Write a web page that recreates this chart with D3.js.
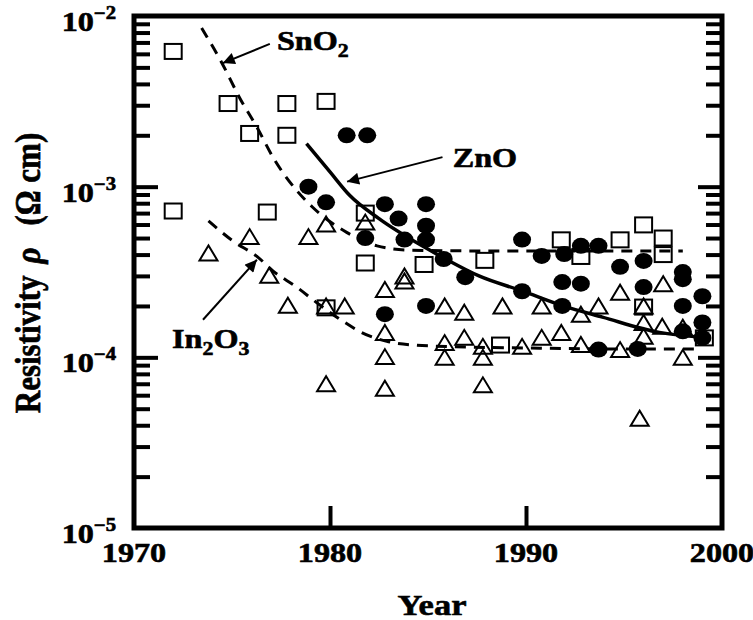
<!DOCTYPE html>
<html>
<head>
<meta charset="utf-8">
<script src="https://cdn.jsdelivr.net/npm/d3@7"></script>
<style>
  body { margin: 0; background: #fff; }
  text { font-family: "Liberation Serif", "Times New Roman", serif; font-weight: bold; fill: #000;
         stroke: #000; stroke-width: 0.6px; }
</style>
</head>
<body>
<div id="chart"></div>
<script>
// SnO2 (open squares)
var snYears  = [1972, 1972, 1974.8, 1975.9, 1976.8, 1977.8, 1977.8, 1979.8, 1979.8, 1981.8, 1981.8,
                1984.8, 1987.9, 1988.7, 1991.8, 1992.8, 1994.8, 1996.0, 1997.0, 1997.0, 1996.0, 1999.1];
var snValues = [6.2e-3, 7.2e-4, 3.07e-3, 2.05e-3, 7.1e-4, 3.07e-3, 2.0e-3, 3.16e-3, 1.95e-4, 7.0e-4, 3.57e-4,
                3.5e-4, 3.7e-4, 1.18e-4, 4.88e-4, 3.9e-4, 4.88e-4, 5.97e-4, 5.0e-4, 4.0e-4, 1.97e-4, 1.3e-4];

// ZnO (filled circles)
var znYears  = [1978.9, 1979.8, 1980.85, 1981.9, 1981.8, 1982.8, 1983.5, 1983.8, 1984.9, 1984.9, 1984.9,
                1985.8, 1986.9, 1989.8, 1989.8, 1984.9, 1982.8, 1990.8, 1991.95, 1992.8, 1993.7, 1994.8,
                1996.0, 1991.85, 1992.8, 1996.0, 1998.0, 1998.0, 1991.85, 1998.0, 1999.0, 1999.0, 1998.0,
                1993.7, 1995.7, 1999.0];
var znValues = [1.0e-3, 8.1e-4, 2.0e-3, 2.0e-3, 5.0e-4, 7.9e-4, 6.5e-4, 4.9e-4, 7.9e-4, 5.9e-4, 4.9e-4,
                3.77e-4, 2.95e-4, 4.9e-4, 2.44e-4, 2.0e-4, 1.79e-4, 3.93e-4, 4.03e-4, 4.5e-4, 4.5e-4, 3.39e-4,
                3.67e-4, 2.76e-4, 2.7e-4, 2.58e-4, 3.16e-4, 2.87e-4, 2.0e-4, 2.0e-4, 2.28e-4, 1.6e-4, 1.42e-4,
                1.11e-4, 1.12e-4, 1.3e-4];

// In2O3 (open triangles)
var inYears  = [1973.8, 1975.9, 1976.9, 1977.85, 1978.9, 1979.8, 1979.8, 1980.75, 1979.8, 1981.8, 1983.8,
                1983.8, 1982.8, 1985.85, 1986.85, 1988.8, 1982.8, 1982.8, 1982.8, 1985.85, 1985.85, 1986.85,
                1987.8, 1987.8, 1987.8, 1989.8, 1990.8, 1992.8, 1993.7, 1994.8, 1996.0, 1996.0, 1996.0,
                1996.95, 1998.0, 1997.0, 1990.8, 1991.8, 1992.8, 1994.8, 1995.8, 1998.0];
var inValues = [4.09e-4, 5.1e-4, 3.03e-4, 2.02e-4, 5.1e-4, 6.05e-4, 2.0e-4, 2.0e-4, 7.0e-5, 6.2e-4, 3.0e-4,
                2.8e-4, 2.5e-4, 2.0e-4, 1.84e-4, 2.0e-4, 1.4e-4, 1.01e-4, 6.6e-5, 1.22e-4, 1.0e-4, 1.31e-4,
                1.16e-4, 1.0e-4, 6.9e-5, 1.16e-4, 2.0e-4, 1.79e-4, 2.0e-4, 2.41e-4, 2.0e-4, 1.6e-4, 1.33e-4,
                1.52e-4, 1.5e-4, 2.7e-4, 1.31e-4, 1.4e-4, 1.19e-4, 1.11e-4, 4.4e-5, 1.0e-4];

// trend curves
var snFitYears  = [1973.45, 1974.45, 1975.4, 1976.3, 1977.1, 1978.3, 1979.1, 1980.85, 1982.4, 1984, 1988, 1993, 1998];
var snFitValues = [8.5e-3, 5.4e-3, 3.3e-3, 2.2e-3, 1.48e-3, 9.5e-4, 7.6e-4, 5.4e-4, 4.5e-4, 4.25e-4, 4.2e-4, 4.2e-4, 4.2e-4];
var znFitYears  = [1978.8, 1980.0, 1981.0, 1982.5, 1984.7, 1985.9, 1987.6, 1989.8, 1991.9, 1993.9, 1996.8, 1999.0];
var znFitValues = [1.79e-3, 1.22e-3, 8.9e-4, 6.5e-4, 4.5e-4, 3.77e-4, 3.0e-4, 2.45e-4, 2.0e-4, 1.72e-4, 1.4e-4, 1.31e-4];
var inFitYears  = [1973.8, 1975.05, 1976.3, 1977.1, 1978.3, 1979.3, 1980.65, 1981.6, 1982.9, 1984.3, 1987, 1991, 1995, 1998.7];
var inFitValues = [6.3e-4, 4.8e-4, 3.88e-4, 3.2e-4, 2.58e-4, 2.1e-4, 1.63e-4, 1.4e-4, 1.24e-4, 1.18e-4, 1.15e-4, 1.13e-4, 1.12e-4, 1.12e-4];

var xTickYears = [1970, 1980, 1990, 2000];
var yDecades = [1e-2, 1e-3, 1e-4, 1e-5];
var yExponents = ["\u22122", "\u22123", "\u22124", "\u22125"];

var width = 753, height = 620;
var stretch = 1.15;

var svg = d3.select("#chart").append("svg")
    .attr("width", width)
    .attr("height", height);

var x = d3.scaleLinear().domain([1970, 2000]).range([134, 722]);
var y = d3.scaleLog().domain([1e-5, 1e-2]).range([528, 16]);

// minor ticks 2..9 of each decade
var minorTicks = [];
[1e-5, 1e-4, 1e-3].forEach(function(d) {
  for (var k = 2; k <= 9; k++) minorTicks.push(d * k);
});
var majorTicks = [1e-3, 1e-4];

function styleAxis(g) {
  g.select(".domain").remove();
  g.selectAll(".tick line").attr("stroke", "#000").attr("stroke-width", 4);
  g.selectAll(".tick text").remove();
}

svg.append("g").attr("transform", "translate(134,0)")
  .call(d3.axisLeft(y).tickValues(minorTicks).tickSize(-16).tickFormat("")).call(styleAxis);
svg.append("g").attr("transform", "translate(134,0)")
  .call(d3.axisLeft(y).tickValues(majorTicks).tickSize(-24).tickFormat("")).call(styleAxis);
svg.append("g").attr("transform", "translate(722,0)")
  .call(d3.axisRight(y).tickValues(minorTicks).tickSize(-16).tickFormat("")).call(styleAxis);
svg.append("g").attr("transform", "translate(722,0)")
  .call(d3.axisRight(y).tickValues(majorTicks).tickSize(-24).tickFormat("")).call(styleAxis);
svg.append("g").attr("transform", "translate(0,528)")
  .call(d3.axisBottom(x).tickValues([1980, 1990]).tickSize(-22).tickFormat("")).call(styleAxis);

// frame
svg.append("rect")
  .attr("x", 134).attr("y", 16)
  .attr("width", 722 - 134).attr("height", 528 - 16)
  .attr("fill", "none").attr("stroke", "#000").attr("stroke-width", 5);

// tick labels
xTickYears.forEach(function(d) {
  svg.append("text")
    .attr("transform", "translate(" + x(d) + ",562) scale(" + stretch + ",1)")
    .attr("text-anchor", "middle")
    .style("font-size", "28px")
    .text(d);
});

yDecades.forEach(function(d, i) {
  var t = svg.append("text")
    .attr("transform", "translate(116," + (y(d) + 15) + ") scale(" + stretch + ",1)")
    .attr("text-anchor", "end")
    .style("font-size", "28px");
  t.append("tspan").text("10");
  t.append("tspan").attr("dy", -12).style("font-size", "18px").text(yExponents[i]);
});

// axis titles
svg.append("text")
  .attr("transform", "translate(432,615) scale(" + stretch + ",1)")
  .attr("text-anchor", "middle")
  .style("font-size", "30px")
  .text("Year");

var yt = svg.append("text")
  .attr("transform", "translate(40,273) scale(" + stretch + ",1) rotate(-90)")
  .attr("text-anchor", "middle")
  .style("font-size", "31px");
yt.append("tspan").text("Resistivity");
yt.append("tspan").attr("dx", 12).style("font-style", "italic").text("\u03c1");
yt.append("tspan").attr("dx", 22).text("(\u03a9 cm)");

// trend curves
var line = d3.line()
  .x(function(d) { return x(d[0]); })
  .y(function(d) { return y(d[1]); })
  .curve(d3.curveMonotoneX);

svg.append("path")
  .datum(d3.zip(snFitYears, snFitValues))
  .attr("d", line)
  .attr("fill", "none").attr("stroke", "#000").attr("stroke-width", 3)
  .attr("stroke-dasharray", "11,8");

svg.append("path")
  .datum(d3.zip(inFitYears, inFitValues))
  .attr("d", line)
  .attr("fill", "none").attr("stroke", "#000").attr("stroke-width", 3)
  .attr("stroke-dasharray", "11,8");

svg.append("path")
  .datum(d3.zip(znFitYears, znFitValues))
  .attr("d", line)
  .attr("fill", "none").attr("stroke", "#000").attr("stroke-width", 3.5);

// markers
svg.append("g").selectAll("rect")
  .data(d3.zip(snYears, snValues))
  .enter().append("rect")
  .attr("x", function(d) { return x(d[0]) - 8.5; })
  .attr("y", function(d) { return y(d[1]) - 7.5; })
  .attr("width", 17).attr("height", 15)
  .attr("fill", "none").attr("stroke", "#000").attr("stroke-width", 2);

svg.append("g").selectAll("path")
  .data(d3.zip(inYears, inValues))
  .enter().append("path")
  .attr("transform", function(d) { return "translate(" + x(d[0]) + "," + y(d[1]) + ")"; })
  .attr("d", "M-9,7.5L9,7.5L0,-7.5Z")
  .attr("fill", "none").attr("stroke", "#000").attr("stroke-width", 2)
  .attr("stroke-linejoin", "miter");

svg.append("g").selectAll("ellipse")
  .data(d3.zip(znYears, znValues))
  .enter().append("ellipse")
  .attr("cx", function(d) { return x(d[0]); })
  .attr("cy", function(d) { return y(d[1]); })
  .attr("rx", 9).attr("ry", 8)
  .attr("fill", "#000");

// annotations with arrows
svg.append("defs").append("marker")
  .attr("id", "head")
  .attr("viewBox", "0 0 10 10")
  .attr("refX", 10).attr("refY", 5)
  .attr("markerWidth", 7).attr("markerHeight", 6)
  .attr("markerUnits", "strokeWidth")
  .attr("orient", "auto")
  .append("path").attr("d", "M0,0L10,5L0,10Z").attr("fill", "#000");

var arrows = [
  [[1976.93, 6.86e-3], [1974.53, 5.3e-3]],
  [[1985.74, 1.49e-3], [1980.87, 1.07e-3]],
  [[1973.52, 1.66e-4], [1976.27, 3.73e-4]]
];
arrows.forEach(function(a) {
  svg.append("line")
    .attr("x1", x(a[0][0])).attr("y1", y(a[0][1]))
    .attr("x2", x(a[1][0])).attr("y2", y(a[1][1]))
    .attr("stroke", "#000").attr("stroke-width", 2)
    .attr("marker-end", "url(#head)");
});

function formula(yr, val, parts) {
  var t = svg.append("text")
    .attr("transform", "translate(" + x(yr) + "," + y(val) + ") scale(" + stretch + ",1)")
    .style("font-size", "28px");
  parts.forEach(function(p) {
    t.append("tspan").attr("dy", p[1]).style("font-size", p[2]).text(p[0]);
  });
}
formula(1977.29, 6.32e-3, [["SnO", 0, "28px"], ["2", 7, "19px"]]);
formula(1986.26, 1.30e-3, [["ZnO", 0, "28px"]]);
formula(1971.94, 1.13e-4, [["In", 0, "28px"], ["2", 7, "19px"], ["O", -7, "28px"], ["3", 7, "19px"]]);
</script>
</body>
</html>
